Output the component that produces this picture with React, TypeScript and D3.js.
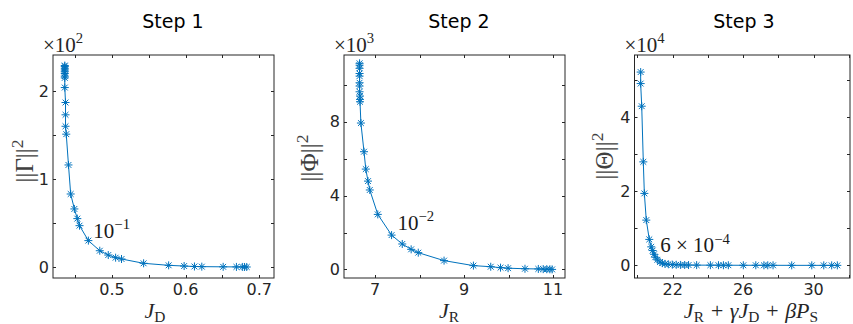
import * as d3 from "d3";
import { useEffect, useRef } from "react";

// Step 1: J_D vs ||Gamma||^2 (x10^2)
const step1JD = [0.436, 0.436, 0.436, 0.436, 0.436, 0.436, 0.436, 0.436, 0.436, 0.437, 0.437, 0.437, 0.438, 0.441, 0.444, 0.449, 0.453, 0.456, 0.468, 0.4835, 0.495, 0.505, 0.513, 0.543, 0.577, 0.598, 0.612, 0.622, 0.651, 0.669, 0.677, 0.68, 0.683];
const step1Gamma = [2.29, 2.28, 2.26, 2.24, 2.22, 2.2, 2.17, 2.15, 2.04, 1.87, 1.73, 1.6, 1.51, 1.16, 0.83, 0.66, 0.55, 0.47, 0.3, 0.185, 0.136, 0.106, 0.091, 0.042, 0.019, 0.011, 0.006, 0.004, 0.002, 0.001, 0.0007, 0.0004, 0.0002];

// Step 2: J_R vs ||Phi||^2 (x10^3)
const step2JR = [6.65, 6.65, 6.65, 6.65, 6.65, 6.65, 6.65, 6.65, 6.66, 6.66, 6.66, 6.68, 6.75, 6.79, 6.84, 6.88, 7.06, 7.37, 7.61, 7.81, 7.97, 8.55, 9.21, 9.6, 9.82, 9.99, 10.37, 10.67, 10.78, 10.86, 10.93, 10.98];
const step2Phi = [11.15, 11.05, 10.88, 10.6, 10.46, 10.1, 9.92, 9.61, 9.38, 9.2, 9.07, 7.92, 6.37, 5.43, 4.78, 4.3, 2.98, 1.86, 1.38, 1.09, 0.91, 0.48, 0.21, 0.15, 0.1, 0.07, 0.04, 0.03, 0.02, 0.015, 0.01, 0.005];

// Step 3: J_R + gamma J_D + beta P_S vs ||Theta||^2 (x10^4)
const step3J = [20.18, 20.18, 20.24, 20.33, 20.39, 20.5, 20.67, 20.78, 20.86, 20.94, 21.01, 21.13, 21.28, 21.41, 21.56, 21.75, 21.98, 22.2, 22.45, 22.68, 22.9, 23.36, 24.14, 24.6, 24.88, 25.16, 26.01, 26.72, 27.18, 27.4, 27.7, 28.76, 29.9, 30.58, 31.03, 31.35];
const step3Theta = [5.21, 4.9, 4.29, 2.79, 1.94, 1.22, 0.7, 0.5, 0.4, 0.3, 0.22, 0.15, 0.09, 0.06, 0.04, 0.03, 0.02, 0.016, 0.013, 0.011, 0.009, 0.007, 0.006, 0.005, 0.004, 0.004, 0.003, 0.003, 0.002, 0.002, 0.002, 0.001, 0.001, 0.001, 0.0005, 0.0003];

const titles = ["Step 1", "Step 2", "Step 3"];
const exponents = ["2", "3", "4"];
const yNames = ["Γ", "Φ", "Θ"];
const annotations = [
  { idx: 18, parts: [["10", "n"], ["−1", "sup"]] },
  { idx: 17, parts: [["10", "n"], ["−2", "sup"]] },
  { idx: 6, parts: [["6 × 10", "n"], ["−4", "sup"]] },
];
const xTickVals = [d3.range(0.45, 0.7001, 0.05), d3.range(7, 11.001, 1), d3.range(20, 32.001, 2)];
const xTickLabels = [[0.5, 0.6, 0.7], [7, 9, 11], [22, 26, 30]];
const yTickVals = [d3.range(0, 2.001, 0.5), d3.range(0, 10.001, 2), d3.range(0, 5.001, 1)];
const yTickLabels = [[0, 1, 2], [0, 4, 8], [0, 2, 4]];

const BLUE = "#0072BD";
const AX = "#262626";
const SANS = "DejaVu Sans, sans-serif";
const SERIF = "Liberation Serif, DejaVu Serif, serif";

// write parts (normal / italic / sub / sup) into a text element with tspans
function mathText(text: any, parts: string[][], size: number) {
  let off = 0;
  parts.forEach(([str, kind]) => {
    let target = 0;
    let fs = size;
    if (kind === "sub") { target = size * 0.2; fs = size * 0.7; }
    if (kind === "sup") { target = -size * 0.42; fs = size * 0.7; }
    text.append("tspan")
      .attr("dy", target - off)
      .attr("font-size", fs)
      .attr("font-style", kind === "i" ? "italic" : "normal")
      .text(str);
    off = target;
  });
}

const App = () => {
  const svgRef = useRef(null);

  useEffect(() => {
    const svg = d3.select(svgRef.current);
    svg.selectAll("*").remove();

    const panels = [
      { xs: step1JD, ys: step1Gamma, x0: 53, x1: 274, xDom: [0.42, 0.72], y0: 278, y1: 55, yDom: [-0.125, 2.41], titleX: 173, xlabX: 155, ylabX: 33, ylabY: 161, dx: 5, dy: -3,
        xlab: [["J", "i"], ["D", "sub"]], fmt: d3.format(".1f") },
      { xs: step2JR, ys: step2Phi, x0: 344, x1: 565, xDom: [6.3, 11.27], y0: 278, y1: 55, yDom: [-0.46, 11.6], titleX: 459, xlabX: 449, ylabX: 318, ylabY: 158, dx: 6, dy: -5,
        xlab: [["J", "i"], ["R", "sub"]], fmt: d3.format("d") },
      { xs: step3J, ys: step3Theta, x0: 634.5, x1: 850, xDom: [19.83, 32.07], y0: 278, y1: 55, yDom: [-0.34, 5.67], titleX: 744, xlabX: 751, ylabX: 613, ylabY: 156, dx: 11, dy: 13,
        xlab: [["J", "i"], ["R", "sub"], [" + γ", "i"], ["J", "i"], ["D", "sub"], [" + β", "i"], ["P", "i"], ["S", "sub"]], fmt: d3.format("d") },
    ];

    panels.forEach((p, i) => {
      const x = d3.scaleLinear().domain(p.xDom).range([p.x0, p.x1]);
      const y = d3.scaleLinear().domain(p.yDom).range([p.y0, p.y1]);
      const g = svg.append("g");

      // title
      g.append("text").attr("x", p.titleX).attr("y", 28).attr("text-anchor", "middle")
        .attr("font-family", SANS).attr("font-size", 19).attr("fill", "#000").text(titles[i]);

      // box
      g.append("rect").attr("x", p.x0).attr("y", p.y1).attr("width", p.x1 - p.x0).attr("height", p.y0 - p.y1)
        .attr("fill", "white").attr("stroke", AX).attr("stroke-width", 1);

      // ticks (inward, mirrored on top/right)
      xTickVals[i].forEach((t) => {
        const px = Math.round(x(t)) + 0.5;
        g.append("line").attr("x1", px).attr("x2", px).attr("y1", p.y0).attr("y2", p.y0 - 3).attr("stroke", AX);
        g.append("line").attr("x1", px).attr("x2", px).attr("y1", p.y1).attr("y2", p.y1 + 3).attr("stroke", AX);
      });
      yTickVals[i].forEach((t) => {
        const py = Math.round(y(t)) + 0.5;
        g.append("line").attr("x1", p.x0).attr("x2", p.x0 + 3).attr("y1", py).attr("y2", py).attr("stroke", AX);
        g.append("line").attr("x1", p.x1).attr("x2", p.x1 - 3).attr("y1", py).attr("y2", py).attr("stroke", AX);
      });
      xTickLabels[i].forEach((t) => {
        g.append("text").attr("x", x(t)).attr("y", 295).attr("text-anchor", "middle")
          .attr("font-family", SANS).attr("font-size", 16).attr("fill", AX).text(p.fmt(t));
      });
      yTickLabels[i].forEach((t) => {
        g.append("text").attr("x", p.x0 - 4).attr("y", y(t)).attr("dy", "0.36em").attr("text-anchor", "end")
          .attr("font-family", SANS).attr("font-size", 16).attr("fill", AX).text(String(t));
      });

      // exponent multiplier
      const mult = g.append("text").attr("x", p.x0 - 10).attr("y", 52)
        .attr("font-family", SERIF).attr("fill", AX);
      mathText(mult, [["×10", "n"], [exponents[i], "sup"]], 21);

      // axis labels
      const xl = g.append("text").attr("x", p.xlabX).attr("y", 318).attr("text-anchor", "middle")
        .attr("font-family", SERIF).attr("fill", AX);
      mathText(xl, p.xlab, 22);

      const yl = g.append("text").attr("transform", `translate(${p.ylabX},${p.ylabY}) rotate(-90)`)
        .attr("text-anchor", "middle").attr("font-family", SERIF).attr("fill", "#404040");
      mathText(yl, [["||" + yNames[i] + "||", "n"], ["2", "sup"]], 25);

      // curve
      const pts = p.xs.map((v, k) => [v, p.ys[k]]);
      g.append("path").datum(pts).attr("fill", "none").attr("stroke", BLUE).attr("stroke-width", 1)
        .attr("d", d3.line().x((d) => x(d[0])).y((d) => y(d[1])));

      // asterisk markers
      const r = 4, s = 2.9;
      g.append("g").selectAll("path").data(pts).join("path")
        .attr("fill", "none").attr("stroke", BLUE).attr("stroke-width", 1)
        .attr("d", (d) => {
          const cx = x(d[0]), cy = y(d[1]);
          return `M${cx - r},${cy}H${cx + r}M${cx},${cy - r}V${cy + r}` +
            `M${cx - s},${cy - s}L${cx + s},${cy + s}M${cx - s},${cy + s}L${cx + s},${cy - s}`;
        });

      // annotation
      const a = annotations[i];
      const ap = pts[a.idx];
      const at = g.append("text").attr("x", x(ap[0]) + p.dx).attr("y", y(ap[1]) + p.dy)
        .attr("font-family", SERIF).attr("fill", "#1a1a1a");
      mathText(at, a.parts, 21);
    });
  }, []);

  return (
    <div style={{ position: "absolute", left: 0, top: 0, width: 853, height: 324, background: "white" }}>
      <svg ref={svgRef} width={853} height={324}></svg>
    </div>
  );
};

export default App;
